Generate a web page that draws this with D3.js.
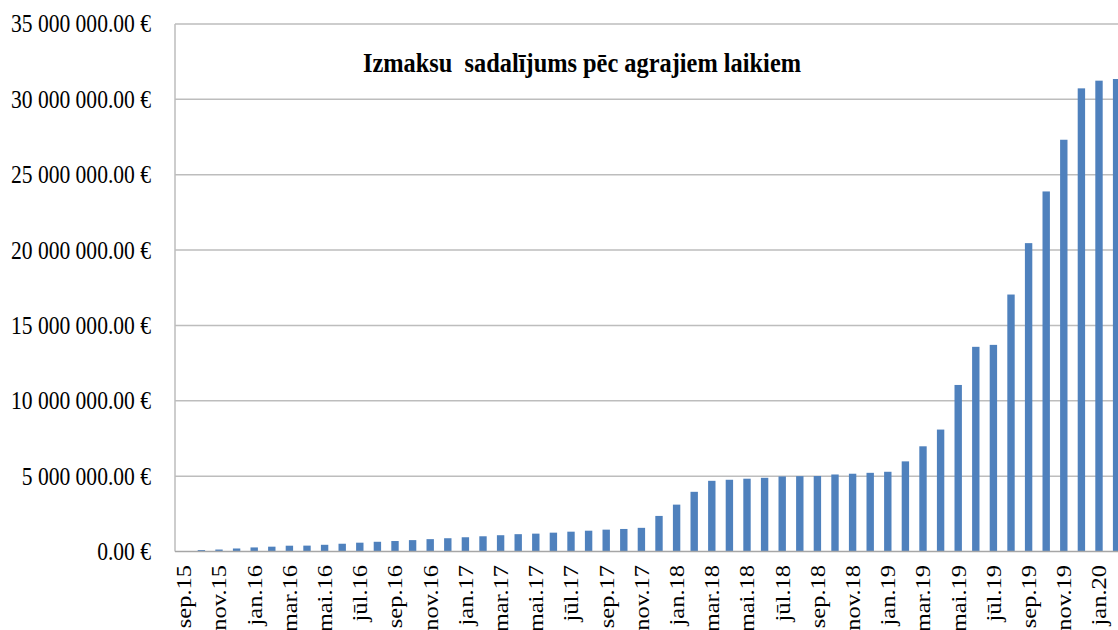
<!DOCTYPE html>
<html>
<head>
<meta charset="utf-8">
<script src="https://cdn.jsdelivr.net/npm/d3@7"></script>
<style>
  html, body { margin: 0; padding: 0; background: #fff; overflow: hidden; }
  svg { display: block; }
  text { font-family: "Liberation Serif", "Times New Roman", serif; fill: #000; }
</style>
</head>
<body>
<svg id="chart" width="1118" height="630"></svg>
<script>
// Monthly cumulative payouts (EUR), Sep 2015 – Feb 2020
const months = [
  "sep.15","okt.15","nov.15","dec.15","jan.16","feb.16","mar.16","apr.16","mai.16","jūn.16",
  "jūl.16","aug.16","sep.16","okt.16","nov.16","dec.16","jan.17","feb.17","mar.17","apr.17",
  "mai.17","jūn.17","jūl.17","aug.17","sep.17","okt.17","nov.17","dec.17","jan.18","feb.18",
  "mar.18","apr.18","mai.18","jūn.18","jūl.18","aug.18","sep.18","okt.18","nov.18","dec.18",
  "jan.19","feb.19","mar.19","apr.19","mai.19","jūn.19","jūl.19","aug.19","sep.19","okt.19",
  "nov.19","dec.19","jan.20","feb.20"
];
const payouts = [
  0, 95000, 130000, 200000, 270000, 320000, 385000, 390000, 445000, 515000,
  585000, 645000, 695000, 755000, 820000, 880000, 945000, 1010000, 1080000, 1150000,
  1185000, 1250000, 1315000, 1380000, 1450000, 1495000, 1570000, 2360000, 3110000, 3960000,
  4690000, 4760000, 4830000, 4890000, 4980000, 5000000, 5010000, 5110000, 5160000, 5220000,
  5290000, 5980000, 6980000, 8090000, 11050000, 13580000, 13710000, 17050000, 20460000, 23890000,
  27320000, 30730000, 31240000, 31350000
];
const yTicks = [0, 5000000, 10000000, 15000000, 20000000, 25000000, 30000000, 35000000];
const chartTitle = "Izmaksu  sadalījums pēc agrajiem laikiem";

const svg = d3.select("#chart");
const plot = { left: 175, top: 24, bottom: 551.5, step: 17.6 };
plot.right = plot.left + plot.step * months.length;
// Glyphs are set slightly condensed horizontally
const squeeze = 0.88;

const x = d3.scaleBand()
  .domain(months)
  .range([plot.left, plot.right])
  .paddingInner(0.58)
  .paddingOuter(0.29);

const y = d3.scaleLinear()
  .domain([0, 35000000])
  .range([plot.bottom, plot.top]);

const fmt = v => d3.format(",.2f")(v).replace(/,/g, " ") + " €";

// Horizontal gridlines (the top one closes the plot frame)
svg.append("g")
  .selectAll("line")
  .data(yTicks.filter(d => d > 0))
  .join("line")
  .attr("x1", plot.left)
  .attr("x2", plot.right)
  .attr("y1", d => y(d))
  .attr("y2", d => y(d))
  .attr("stroke", "#bdbdbd")
  .attr("stroke-width", 1.5);

// Left border of plot area
svg.append("line")
  .attr("x1", plot.left).attr("x2", plot.left)
  .attr("y1", plot.top).attr("y2", plot.bottom)
  .attr("stroke", "#bdbdbd").attr("stroke-width", 1.5);

// Bars
svg.append("g")
  .selectAll("rect")
  .data(months.map((m, i) => ({ m, v: payouts[i] })))
  .join("rect")
  .attr("x", d => x(d.m))
  .attr("width", x.bandwidth())
  .attr("y", d => y(d.v))
  .attr("height", d => y(0) - y(d.v))
  .attr("fill", "#4f81bd");

// Category axis baseline
svg.append("line")
  .attr("x1", plot.left).attr("x2", plot.right)
  .attr("y1", plot.bottom).attr("y2", plot.bottom)
  .attr("stroke", "#a6a6a6").attr("stroke-width", 1.5);

// Value axis labels
svg.append("g")
  .selectAll("text")
  .data(yTicks)
  .join("text")
  .attr("transform", d => `translate(151,${y(d)}) scale(${squeeze},1)`)
  .attr("text-anchor", "end")
  .attr("dominant-baseline", "central")
  .style("font-size", "24.5px")
  .text(d => fmt(d));

// Category labels, every second month, rotated
svg.append("g")
  .selectAll("text")
  .data(months.filter((m, i) => i % 2 === 0))
  .join("text")
  .attr("transform", d => `translate(${x(d) + x.bandwidth() / 2},565) scale(${squeeze},1) rotate(-90)`)
  .attr("text-anchor", "end")
  .attr("dominant-baseline", "central")
  .style("font-size", "24.5px")
  .text(d => d);

// Title
svg.append("text")
  .attr("transform", `translate(582,72) scale(0.92,1)`)
  .attr("text-anchor", "middle")
  .style("font-size", "26.5px")
  .style("font-weight", "bold")
  .style("white-space", "pre")
  .text(chartTitle);
</script>
</body>
</html>
